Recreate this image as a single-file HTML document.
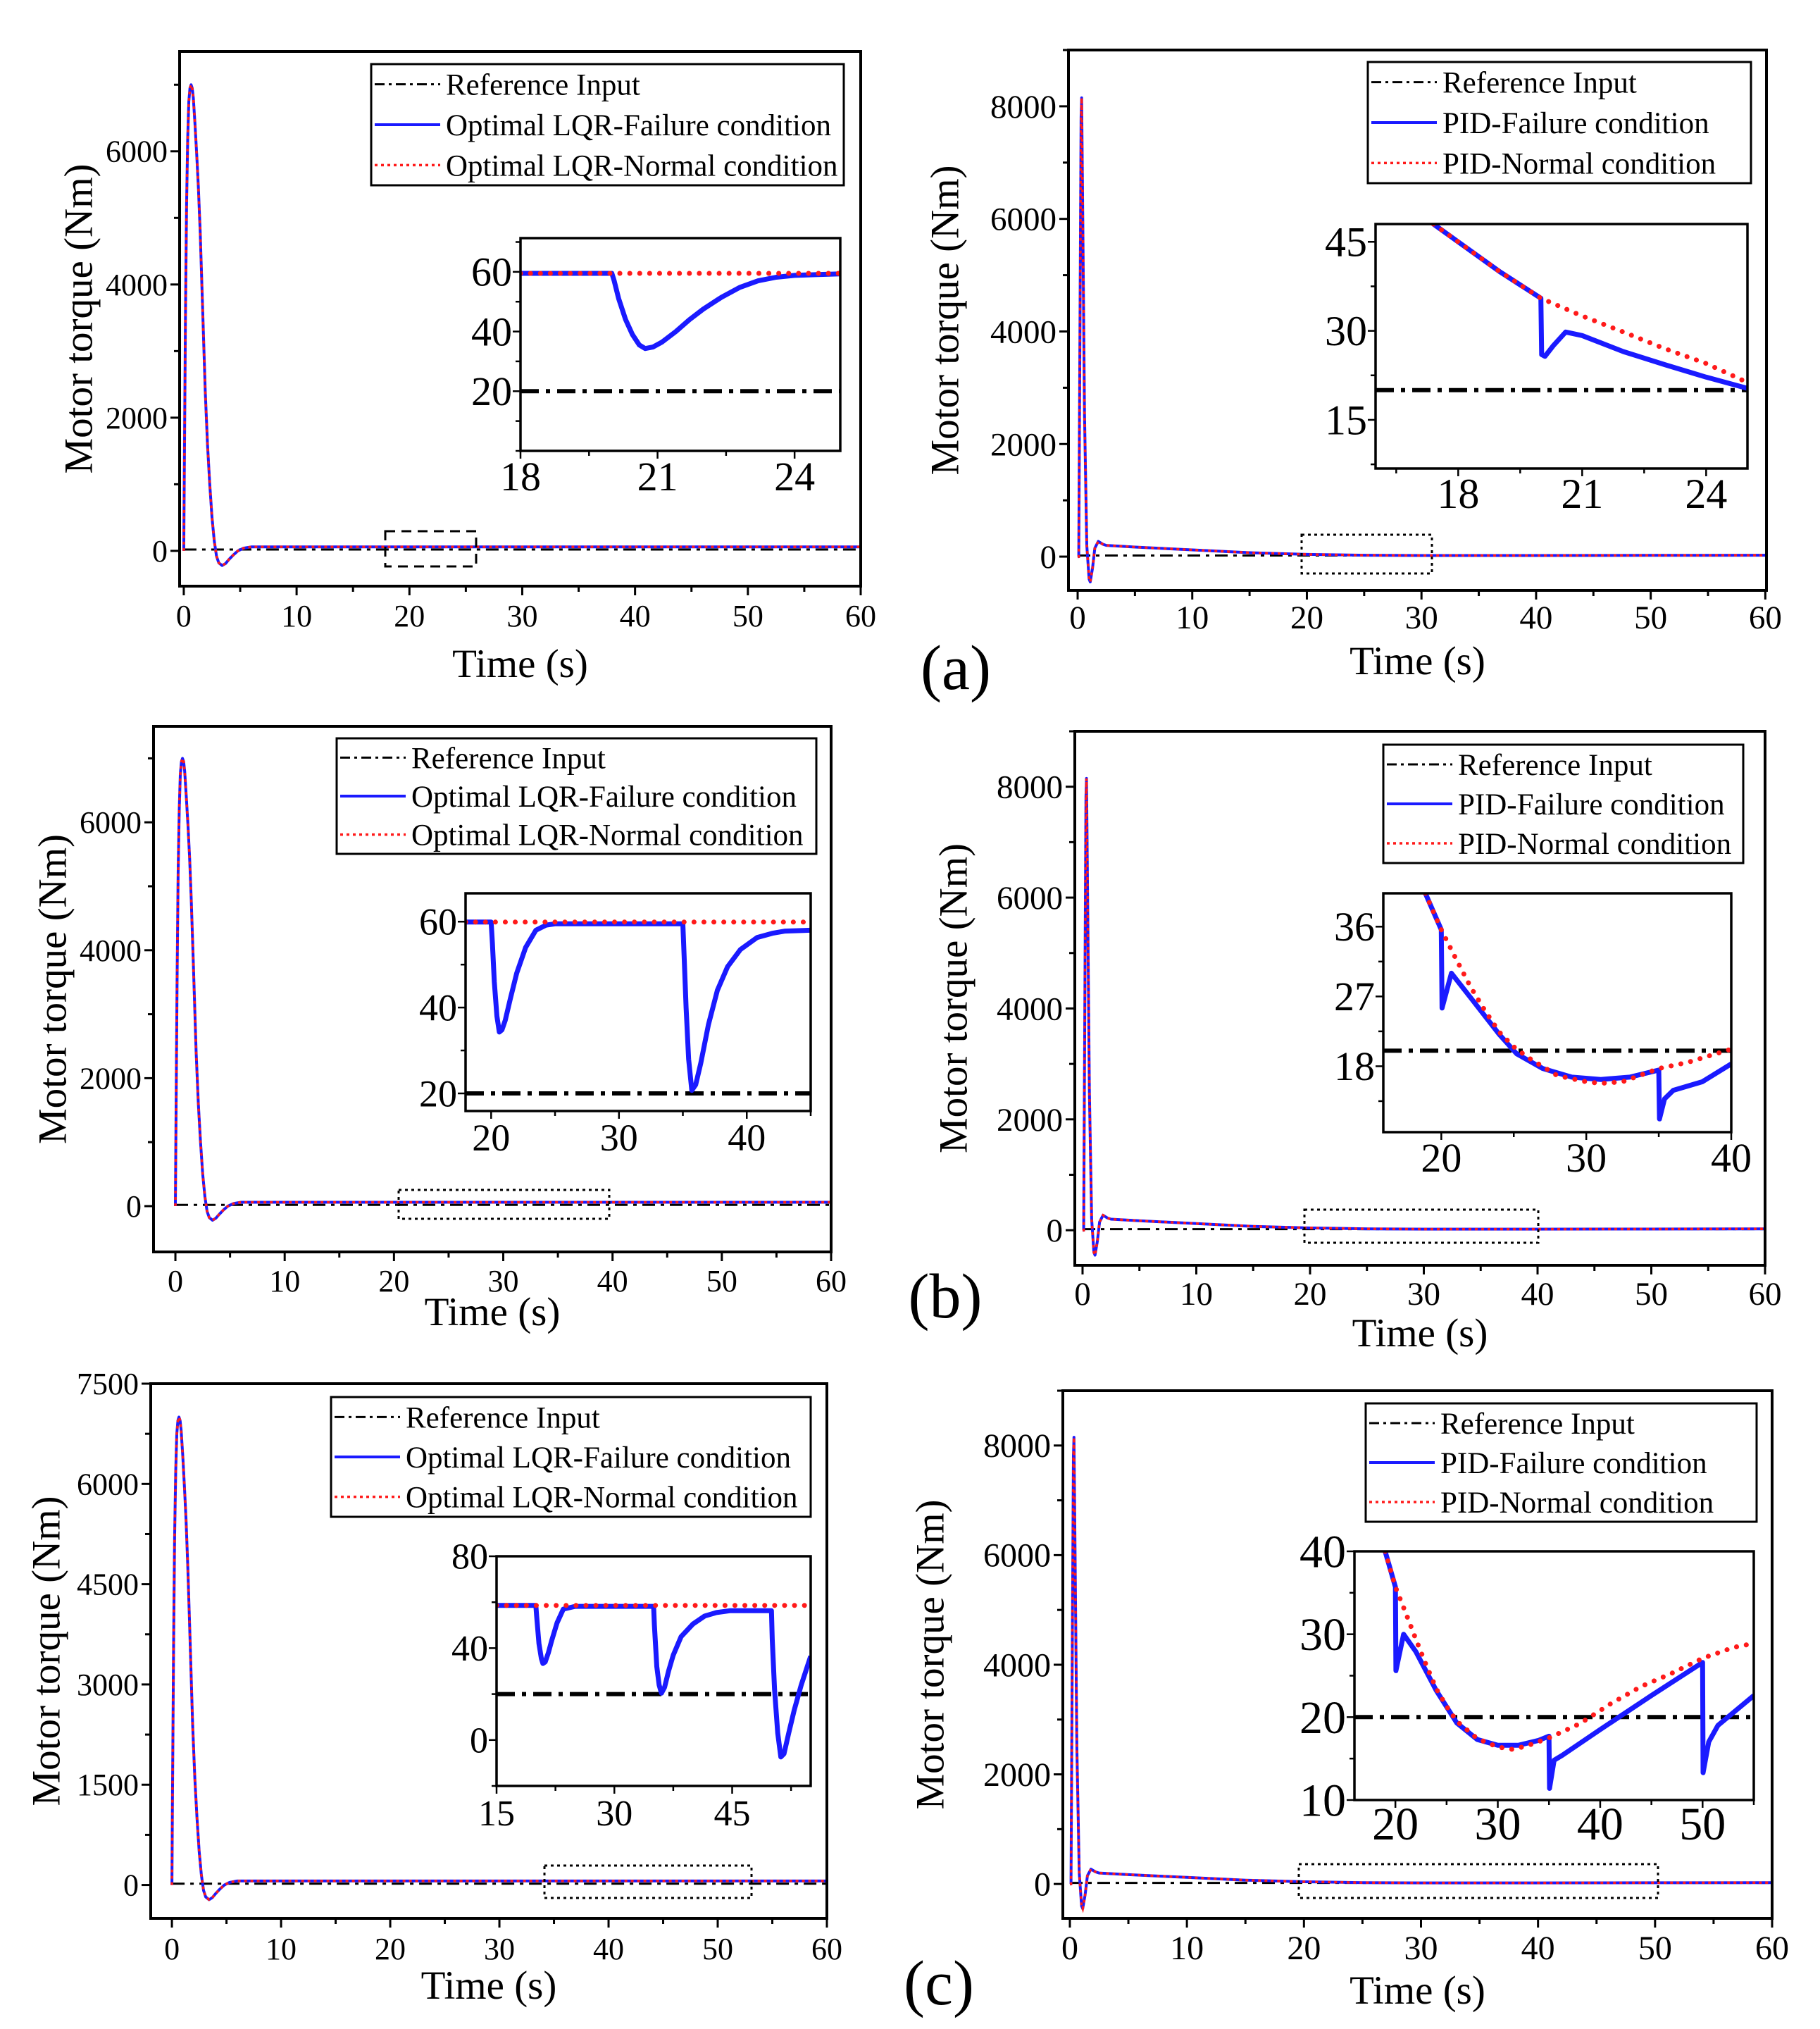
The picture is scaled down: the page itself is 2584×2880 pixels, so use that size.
<!DOCTYPE html>
<html><head><meta charset="utf-8"><style>
html,body{margin:0;padding:0;background:#fff;}
svg{display:block;font-family:"Liberation Serif","DejaVu Serif",serif;}
</style></head><body>
<svg id="fig" xmlns="http://www.w3.org/2000/svg" width="2584" height="2880" viewBox="0 0 2584 2880">
<rect x="0" y="0" width="2584" height="2880" fill="#fff"/>
<text x="1357" y="978" font-size="90" text-anchor="middle">(a)</text>
<text x="1342" y="1870" font-size="90" text-anchor="middle">(b)</text>
<text x="1333" y="2845" font-size="90" text-anchor="middle">(c)</text>
</svg>
<script>
// ---------- main-scale data ----------
const LQR_MAIN_T = [0,0.05,0.15,0.25,0.35,0.45,0.55,0.65,0.75,0.85,1.0,1.15,1.3,1.45,1.6,1.75,1.9,2.1,2.3,2.5,2.7,2.9,3.1,3.4,3.7,4.0,4.4,4.8,5.3,6,60];
const LQR_MAIN_V = [0,1200,3500,5200,6200,6750,6950,7000,6950,6800,6400,5950,5450,4800,4000,3200,2400,1600,1000,500,150,-80,-180,-220,-190,-130,-60,0,40,60,60];
const PID_MAIN_T = [0,0.1,0.2,0.3,0.35,0.45,0.6,0.8,1.0,1.1,1.3,1.5,1.8,2.2,2.5,5,10,15,20,25,30,40,50,60];
const PID_MAIN_V = [0,0,4000,7800,8150,6000,2500,200,-400,-450,-200,150,270,220,200,170,120,70,40,25,20,20,22,25];
const REF_T = [0,60];
const REF_V = [20,20];

// ---------- inset data ----------
const IN1_NORM_T = [18,25];
const IN1_NORM_V = [59.5,59.5];
const IN1_FAIL_T = [18,20,20.05,20.15,20.3,20.45,20.6,20.73,20.9,21.1,21.4,21.7,22,22.4,22.8,23.2,23.6,24,24.5,25];
const IN1_FAIL_V = [59.5,59.5,57,51,44,39,35.5,34.3,34.8,36.5,40,44,47.5,51.5,54.8,57,58.2,58.8,59.1,59.3];

const IN2_NORM_T = [17.4,18,19,20,21,22,23,24,25];
const IN2_NORM_V = [48,45,40,35.5,32.5,29.8,27,24.5,21.3];
const IN2_FAIL_T = [17.4,18,19,20,20.02,20.1,20.3,20.6,21,22,23,24,25];
const IN2_FAIL_V = [48,45,40,35.5,26,25.7,27.5,29.8,29.2,26.5,24.3,22.2,20.3];

const IN3_NORM_T = [18,45];
const IN3_NORM_V = [59.9,59.9];
const IN3_FAIL_T = [18,20,20.1,20.25,20.45,20.64,20.85,21.1,21.5,22,22.7,23.5,24.3,25,35,35.1,35.25,35.45,35.7,36,36.4,37,37.7,38.5,39.5,40.8,42,43,45];
const IN3_FAIL_V = [59.9,59.9,55,46,38,34.3,34.8,37,42,48,54,58,59.2,59.5,59.5,52,40,28,20.7,22,27,36,44,49.5,53.5,56.3,57.3,57.8,58];

const IN4_NORM_T = [18.9,20,21,22,23,24,25,26,28,30,31,32.5,35,37,40];
const IN4_NORM_V = [40.3,35.6,31.9,28.3,25.2,22.4,20.5,19.1,16.8,16,15.8,16,17.7,18.5,20.2];
const IN4_FAIL_T = [18.9,20,20.05,20.7,22,24,25.2,27,29,31,33,35,35.05,35.4,36,38,40];
const IN4_FAIL_V = [40.3,35.6,25.5,30,26.9,22.1,19.6,17.7,16.6,16.3,16.6,17.5,11.2,13.8,14.9,16,18.3];

const IN5_NORM_T = [15,55];
const IN5_NORM_V = [58.6,58.6];
const IN5_FAIL_T = [15,20,20.1,20.4,20.7,20.9,21.2,21.6,22,22.7,23.5,25,35,35.1,35.4,35.7,36,36.4,36.9,37.5,38.5,40,41.5,43,44.7,50,50.1,50.4,50.8,51.2,51.6,52.2,52.9,53.8,55];
const IN5_FAIL_V = [58.6,58.6,54,42,35.5,33.3,34,38,43,51,57,58.2,58.2,50,32,24,20.4,23,30,37,45,50.5,54,55.5,56.3,56.3,44,22,3,-7.4,-6,3,13,24,36.5];

const IN6_NORM_T = [19,20,21,22,23,24,25,26,28,30,31.5,33,35,38,41,44,47,50,53,55];
const IN6_NORM_V = [40,35.7,32.6,29.4,26.3,23.4,21.3,19.5,17.4,16.4,16.1,16.6,17.5,19.2,21.6,23.7,25.3,27.1,28.4,28.9];
const IN6_FAIL_T = [19,20,20.05,20.8,22,24,26,28,30,32,34,35,35.05,35.5,36.3,40,45,50,50.05,50.6,51.5,55];
const IN6_FAIL_V = [40,35.7,25.6,30,27.9,23.2,19.3,17.3,16.6,16.6,17.2,17.7,11.4,14.8,15.4,18.5,22.6,26.6,13.3,17,19,22.6];

// ---------- tick labels ----------
const MAIN_X_TICKS = [0,10,20,30,40,50,60];
const Y_TICKS_LQR = [0,2000,4000,6000];
const Y_TICKS_PID = [0,2000,4000,6000,8000];
const Y_TICKS_LQR_C = [0,1500,3000,4500,6000,7500];

const NS = 'http://www.w3.org/2000/svg';
const svg = document.getElementById('fig');
function mk(parent, tag, attrs) {
  const el = document.createElementNS(NS, tag);
  for (const k in attrs) el.setAttribute(k, attrs[k]);
  parent.appendChild(el);
  return el;
}
function pathFrom(T, V, sx, sy) {
  let d = '';
  for (let i = 0; i < T.length; i++) d += (i ? 'L' : 'M') + sx(T[i]).toFixed(1) + ' ' + sy(V[i]).toFixed(1);
  return d;
}

const panels = [
  {id:'a-lqr', L:255,T:73,R:1222,B:832, xmin:-0.37,xmax:60, ymin:-530,ymax:7500, yt:Y_TICKS_LQR, ym:1000, tfs:44, titleX:112, xlabY:889, timeY:961,
   mainT:LQR_MAIN_T, mainV:LQR_MAIN_V, names:['Reference Input','Optimal LQR-Failure condition','Optimal LQR-Normal condition'],
   leg:[527,91,1198,263], zr:[547,754,676,804], zdash:'14 9',
   ins:{L:739,T:338,R:1193,B:640, xmin:18,xmax:25, ymin:0,ymax:71.3, xt:[18,21,24], yt:[20,40,60], fs:58,
        nT:IN1_NORM_T,nV:IN1_NORM_V,fT:IN1_FAIL_T,fV:IN1_FAIL_V}},
  {id:'a-pid', L:1517,T:71,R:2508,B:838, xmin:-0.8,xmax:60.1, ymin:-600,ymax:9000, yt:Y_TICKS_PID, ym:1000, tfs:47, titleX:1342, xlabY:892, timeY:957,
   mainT:PID_MAIN_T, mainV:PID_MAIN_V, names:['Reference Input','PID-Failure condition','PID-Normal condition'],
   leg:[1942,88,2486,260], zr:[1848,759,2033,814], zdash:'4 5',
   ins:{L:1953,T:318,R:2481,B:665, xmin:16,xmax:25, ymin:6.8,ymax:48, xt:[18,21,24], yt:[15,30,45], fs:60,
        nT:IN2_NORM_T,nV:IN2_NORM_V,fT:IN2_FAIL_T,fV:IN2_FAIL_V}},
  {id:'b-lqr', L:218,T:1031,R:1180,B:1777, xmin:-2.0,xmax:60, ymin:-716,ymax:7500, yt:Y_TICKS_LQR, ym:1000, tfs:44, titleX:75, xlabY:1833, timeY:1881,
   mainT:LQR_MAIN_T, mainV:LQR_MAIN_V, names:['Reference Input','Optimal LQR-Failure condition','Optimal LQR-Normal condition'],
   leg:[478,1048,1159,1212], zr:[566,1689,865,1730], zdash:'4 5',
   ins:{L:661,T:1268,R:1151,B:1577, xmin:18,xmax:45, ymin:15.9,ymax:66.6, xt:[20,30,40], yt:[20,40,60], fs:54,
        nT:IN3_NORM_T,nV:IN3_NORM_V,fT:IN3_FAIL_T,fV:IN3_FAIL_V}},
  {id:'b-pid', L:1526,T:1038,R:2506,B:1796, xmin:-0.68,xmax:60, ymin:-633,ymax:9000, yt:Y_TICKS_PID, ym:1000, tfs:47, titleX:1354, xlabY:1852, timeY:1911,
   mainT:PID_MAIN_T, mainV:PID_MAIN_V, names:['Reference Input','PID-Failure condition','PID-Normal condition'],
   leg:[1964,1057,2475,1225], zr:[1852,1717,2184,1764], zdash:'4 5',
   ins:{L:1964,T:1268,R:2458,B:1607, xmin:16,xmax:40, ymin:9.5,ymax:40.3, xt:[20,30,40], yt:[18,27,36], fs:58,
        nT:IN4_NORM_T,nV:IN4_NORM_V,fT:IN4_FAIL_T,fV:IN4_FAIL_V}},
  {id:'c-lqr', L:214,T:1964,R:1174,B:2723, xmin:-1.94,xmax:60, ymin:-500,ymax:7500, yt:Y_TICKS_LQR_C, ym:750, tfs:44, titleX:66, xlabY:2781, timeY:2837,
   mainT:LQR_MAIN_T, mainV:LQR_MAIN_V, names:['Reference Input','Optimal LQR-Failure condition','Optimal LQR-Normal condition'],
   leg:[470,1983,1151,2153], zr:[773,2648,1067,2694], zdash:'4 5',
   ins:{L:705,T:2209,R:1151,B:2535, xmin:15,xmax:55, ymin:-20,ymax:80, xt:[15,30,45], yt:[0,40,80], fs:52,
        nT:IN5_NORM_T,nV:IN5_NORM_V,fT:IN5_FAIL_T,fV:IN5_FAIL_V}},
  {id:'c-pid', L:1509,T:1974,R:2516,B:2723, xmin:-0.6,xmax:60, ymin:-628,ymax:9000, yt:Y_TICKS_PID, ym:1000, tfs:48, titleX:1321, xlabY:2781, timeY:2844,
   mainT:PID_MAIN_T, mainV:PID_MAIN_V, names:['Reference Input','PID-Failure condition','PID-Normal condition'],
   leg:[1939,1992,2494,2160], zr:[1844,2646,2354,2694], zdash:'4 5',
   ins:{L:1923,T:2202,R:2490,B:2555, xmin:16,xmax:55, ymin:10,ymax:40, xt:[20,30,40,50], yt:[10,20,30,40], fs:66,
        nT:IN6_NORM_T,nV:IN6_NORM_V,fT:IN6_FAIL_T,fV:IN6_FAIL_V}}
];

const defs = mk(svg, 'defs', {});

panels.forEach(function(p) {
  const g = mk(svg, 'g', {});
  
  
  const sx = v => p.L + (v - p.xmin) / (p.xmax - p.xmin) * (p.R - p.L);
  const sy = v => p.B - (v - p.ymin) / (p.ymax - p.ymin) * (p.B - p.T);

  const cp = mk(defs, 'clipPath', {id: 'clip-' + p.id});
  mk(cp, 'rect', {x: p.L, y: p.T, width: p.R - p.L, height: p.B - p.T});

  for (let v = 0; v <= 60; v += 5) {
    const major = v % 10 === 0;
    const t = mk(g, 'line', {x1: sx(v), x2: sx(v), y1: p.B, y2: p.B + (major ? 13 : 8), stroke: '#000', 'stroke-width': 3});
    
    
  }
  MAIN_X_TICKS.forEach(function(v) {
    const t = mk(g, 'text', {x: sx(v), y: p.xlabY, 'font-size': p.tfs, 'text-anchor': 'middle'});
    t.textContent = v;
    
    
  });
  for (let v = 0; v <= p.ymax + 1; v += p.ym) {
    const major = p.yt.indexOf(v) >= 0;
    const t = mk(g, 'line', {x1: p.L, x2: p.L - (major ? 13 : 8), y1: sy(v), y2: sy(v), stroke: '#000', 'stroke-width': 3});
    
    
  }
  p.yt.forEach(function(v) {
    const t = mk(g, 'text', {x: p.L - 17, y: sy(v) + p.tfs * 0.34, 'font-size': p.tfs, 'text-anchor': 'end'});
    t.textContent = v;
    
    
  });
  const xt = mk(g, 'text', {x: (p.L + p.R) / 2, y: p.timeY, 'font-size': 57, 'text-anchor': 'middle'});
  xt.textContent = 'Time (s)';
  
  
  const cy = (p.T + p.B) / 2;
  const yt = mk(g, 'text', {x: p.titleX, y: cy, 'font-size': 57, 'text-anchor': 'middle', transform: 'rotate(-90 ' + p.titleX + ' ' + cy + ')', 'dominant-baseline': 'central'});
  yt.textContent = 'Motor torque (Nm)';
  
  

  const sg = mk(g, 'g', {'clip-path': 'url(#clip-' + p.id + ')'});
  const ref = mk(sg, 'path', {d: pathFrom(REF_T, REF_V, sx, sy), fill: 'none', stroke: '#000', 'stroke-width': 3, 'stroke-dasharray': '18 8 5 8'});
  
  
  const fl = mk(sg, 'path', {d: pathFrom(p.mainT, p.mainV, sx, sy), fill: 'none', stroke: '#1a1aff', 'stroke-width': 4, 'stroke-linejoin': 'round'});
  
  
  const nl = mk(sg, 'path', {d: pathFrom(p.mainT, p.mainV, sx, sy), fill: 'none', stroke: '#ff1a1a', 'stroke-width': 3.5, 'stroke-dasharray': '4 5'});
  
  

  const z = p.zr;
  const zr = mk(g, 'rect', {x: z[0], y: z[1], width: z[2] - z[0], height: z[3] - z[1], fill: 'none', stroke: '#000', 'stroke-width': 3, 'stroke-dasharray': p.zdash});
  
  

  const fr = mk(g, 'rect', {x: p.L, y: p.T, width: p.R - p.L, height: p.B - p.T, fill: 'none', stroke: '#000', 'stroke-width': 4});
  
  

  const lg = mk(g, 'g', {});
  
  
  const lb = p.leg;
  const lr = mk(lg, 'rect', {x: lb[0], y: lb[1], width: lb[2] - lb[0], height: lb[3] - lb[1], fill: '#fff', stroke: '#000', 'stroke-width': 3});
  
  
  const rowH = (lb[3] - lb[1]) / 3;
  const styles = [
    {stroke: '#000', 'stroke-width': 3, 'stroke-dasharray': '14 6 4 6'},
    {stroke: '#1a1aff', 'stroke-width': 4},
    {stroke: '#ff1a1a', 'stroke-width': 3.5, 'stroke-dasharray': '4 5'}
  ];
  const entryNames = ['legend-entry-reference', 'legend-entry-failure', 'legend-entry-normal'];
  for (let i = 0; i < 3; i++) {
    const y = lb[1] + rowH * (i + 0.5);
    const ln = mk(lg, 'line', Object.assign({x1: lb[0] + 5, x2: lb[0] + 98, y1: y, y2: y}, styles[i]));
    
    
    const tx = mk(lg, 'text', {x: lb[0] + 106, y: y + 15, 'font-size': 43});
    tx.textContent = p.names[i];
    
    
  }

  const s = p.ins;
  const ig = mk(g, 'g', {});
  
  
  const ix = v => s.L + (v - s.xmin) / (s.xmax - s.xmin) * (s.R - s.L);
  const iy = v => s.B - (v - s.ymin) / (s.ymax - s.ymin) * (s.B - s.T);
  const ibg = mk(ig, 'rect', {x: s.L, y: s.T, width: s.R - s.L, height: s.B - s.T, fill: '#fff'});
  
  
  const icp = mk(defs, 'clipPath', {id: 'iclip-' + p.id});
  mk(icp, 'rect', {x: s.L, y: s.T, width: s.R - s.L, height: s.B - s.T});
  const isg = mk(ig, 'g', {'clip-path': 'url(#iclip-' + p.id + ')'});
  const iref = mk(isg, 'path', {d: pathFrom([s.xmin, s.xmax], REF_V, ix, iy), fill: 'none', stroke: '#000', 'stroke-width': 6, 'stroke-dasharray': '26 10 6 10'});
  
  
  const ifl = mk(isg, 'path', {d: pathFrom(s.fT, s.fV, ix, iy), fill: 'none', stroke: '#1a1aff', 'stroke-width': 7, 'stroke-linejoin': 'round'});
  
  
  const inl = mk(isg, 'path', {d: pathFrom(s.nT, s.nV, ix, iy), fill: 'none', stroke: '#ff1a1a', 'stroke-width': 7, 'stroke-dasharray': '0.1 14', 'stroke-linecap': 'round'});
  
  
  const ifr = mk(ig, 'rect', {x: s.L, y: s.T, width: s.R - s.L, height: s.B - s.T, fill: 'none', stroke: '#000', 'stroke-width': 3.5});
  
  
  const xstep = s.xt[1] - s.xt[0];
  for (let v = s.xt[0] - xstep; v <= s.xmax + 0.01; v += xstep / 2) {
    if (v < s.xmin - 0.01) continue;
    const major = s.xt.indexOf(v) >= 0;
    const t = mk(ig, 'line', {x1: ix(v), x2: ix(v), y1: s.B, y2: s.B + (major ? 11 : 7), stroke: '#000', 'stroke-width': 2.5});
    
    
  }
  s.xt.forEach(function(v) {
    const t = mk(ig, 'text', {x: ix(v), y: s.B + 56, 'font-size': s.fs, 'text-anchor': 'middle'});
    t.textContent = v;
    
    
  });
  const ystep = s.yt[1] - s.yt[0];
  for (let v = s.yt[0] - ystep; v <= s.ymax + 0.01; v += ystep / 2) {
    if (v < s.ymin - 0.01) continue;
    const major = s.yt.indexOf(v) >= 0;
    const t = mk(ig, 'line', {x1: s.L, x2: s.L - (major ? 11 : 7), y1: iy(v), y2: iy(v), stroke: '#000', 'stroke-width': 2.5});
    
    
  }
  s.yt.forEach(function(v) {
    const t = mk(ig, 'text', {x: s.L - 12, y: iy(v) + s.fs * 0.34, 'font-size': s.fs, 'text-anchor': 'end'});
    t.textContent = v;
    
    
  });
});
</script>
</body></html>
